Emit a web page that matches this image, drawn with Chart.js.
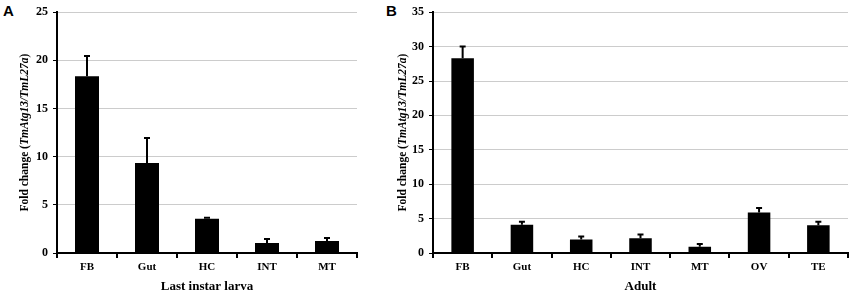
<!DOCTYPE html>
<html>
<head>
<meta charset="utf-8">
<script src="https://cdn.jsdelivr.net/npm/chart.js@4"></script>
<style>
  body { margin: 0; background: #fff; width: 851px; height: 294px; position: relative; overflow: hidden; }
  canvas { position: absolute; top: 0; }
  .panel { position: absolute; font: bold 15px "Liberation Sans", Arial, sans-serif; line-height: 1; color: #000; }
</style>
</head>
<body>
<div class="panel" style="left:3px;top:3px">A</div>
<div class="panel" style="left:386px;top:3px">B</div>
<canvas id="larvaChart" width="372" height="294" style="left:0"></canvas>
<canvas id="adultChart" width="479" height="294" style="left:372px"></canvas>
<script>
// A: last instar larva
const larvaTissues = ['FB', 'Gut', 'HC', 'INT', 'MT'];
const larvaFold = [18.35, 9.35, 3.55, 1.05, 1.25];
const larvaErr = [2.1, 2.6, 0.1, 0.4, 0.3];
const larvaTicks = [0, 5, 10, 15, 20, 25];

// B: adult
const adultTissues = ['FB', 'Gut', 'HC', 'INT', 'MT', 'OV', 'TE'];
const adultFold = [28.3, 4.1, 1.95, 2.15, 0.9, 5.9, 4.05];
const adultErr = [1.7, 0.45, 0.45, 0.55, 0.4, 0.65, 0.5];
const adultTicks = [0, 5, 10, 15, 20, 25, 30, 35];

const serif = '"Liberation Serif", "Times New Roman", serif';

// upward-only error bars with a small cap
const errorBars = {
  id: 'errorBars',
  afterDatasetsDraw(chart, args, opts) {
    const ctx = chart.ctx;
    const y = chart.scales.y;
    const meta = chart.getDatasetMeta(0);
    const vals = chart.data.datasets[0].data;
    ctx.save();
    ctx.strokeStyle = '#000';
    ctx.lineWidth = 2;
    meta.data.forEach((bar, i) => {
      const top = y.getPixelForValue(vals[i] + opts.err[i]);
      const base = y.getPixelForValue(vals[i]);
      ctx.beginPath();
      ctx.moveTo(bar.x, base);
      ctx.lineTo(bar.x, top);
      ctx.moveTo(bar.x - 3, top);
      ctx.lineTo(bar.x + 3, top);
      ctx.stroke();
    });
    ctx.restore();
  }
};

// y title with italic gene names
const yTitle = {
  id: 'yTitle',
  afterDraw(chart, args, opts) {
    const ctx = chart.ctx;
    const area = chart.chartArea;
    const parts = [
      ['Fold change (', 'bold 11.5px ' + serif],
      ['TmAtg13/TmL27a', 'italic bold 11.5px ' + serif],
      [')', 'bold 11.5px ' + serif]
    ];
    let total = 0;
    parts.forEach(p => { ctx.font = p[1]; total += ctx.measureText(p[0]).width; });
    ctx.save();
    ctx.translate(opts.x, (area.top + area.bottom) / 2);
    ctx.rotate(-Math.PI / 2);
    ctx.fillStyle = '#000';
    ctx.textBaseline = 'middle';
    let x = -total / 2;
    parts.forEach(p => {
      ctx.font = p[1];
      ctx.fillText(p[0], x, 0);
      x += ctx.measureText(p[0]).width;
    });
    ctx.restore();
  }
};

function makeChart(id, labels, values, errs, ticks, xTitle, opt) {
  return new Chart(document.getElementById(id).getContext('2d'), {
    type: 'bar',
    data: {
      labels: labels,
      datasets: [{
        data: values,
        backgroundColor: '#000',
        borderWidth: 0,
        barPercentage: opt.barPct,
        categoryPercentage: 1
      }]
    },
    options: {
      responsive: false,
      animation: false,
      layout: { padding: { top: 6, right: opt.right, left: 0, bottom: 0 } },
      scales: {
        y: {
          min: 0,
          max: ticks[ticks.length - 1],
          afterBuildTicks: s => { s.ticks = ticks.map(v => ({ value: v })); },
          afterFit: s => { s.width = opt.yWidth; },
          grid: { color: '#cccccc', lineWidth: 1, tickColor: '#000', tickLength: 4, drawTicks: true },
          border: { color: '#000', width: 2 },
          ticks: { color: '#000', padding: 5, font: { family: serif, size: 12, weight: 'bold' } }
        },
        x: {
          afterFit: s => { s.height = 41; },
          grid: { drawOnChartArea: false, tickColor: '#000', tickLength: 5, lineWidth: 2 },
          border: { color: '#000', width: 2 },
          ticks: { color: '#000', padding: 3, font: { family: serif, size: 11, weight: 'bold' } },
          title: {
            display: true,
            text: xTitle,
            color: '#000',
            padding: { top: 0, bottom: 0 },
            font: { family: serif, size: 13, weight: 'bold' }
          }
        }
      },
      plugins: {
        legend: { display: false },
        tooltip: { enabled: false },
        errorBars: { err: errs },
        yTitle: { x: opt.titleX }
      }
    },
    plugins: [errorBars, yTitle]
  });
}

makeChart('larvaChart', larvaTissues, larvaFold, larvaErr, larvaTicks, 'Last instar larva',
  { barPct: 0.4, right: 15, yWidth: 57, titleX: 25 });
makeChart('adultChart', adultTissues, adultFold, adultErr, adultTicks, 'Adult',
  { barPct: 0.38, right: 3, yWidth: 61, titleX: 31 });
</script>
</body>
</html>
